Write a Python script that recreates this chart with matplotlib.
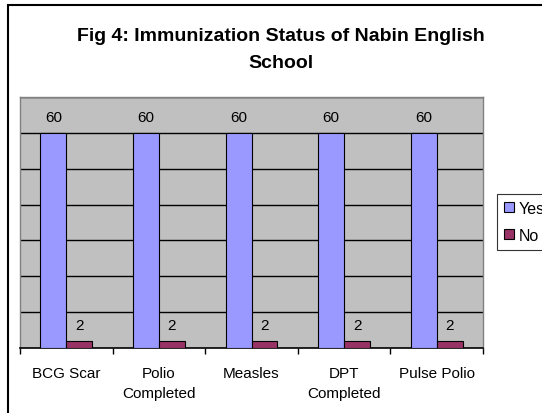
import numpy as np
import matplotlib
matplotlib.use('Agg')
import matplotlib.pyplot as plt
from matplotlib.patches import Rectangle

plt.rcParams['font.family'] = ['Liberation Sans', 'DejaVu Sans']

categories = ['BCG Scar', 'Polio\nCompleted', 'Measles', 'DPT\nCompleted', 'Pulse Polio']
yes_values = [60, 60, 60, 60, 60]
no_values = [2, 2, 2, 2, 2]

W, H = 542, 414
fig = plt.figure(figsize=(W / 100, H / 100), dpi=100)

# outer chart frame (runs off the right and bottom edges)
fig.patches.append(Rectangle((8 / W, -0.1), 1.2, (1 - 6 / H) + 0.1,
                             transform=fig.transFigure, fill=False,
                             edgecolor='black', linewidth=1.5, clip_on=False))

ax = fig.add_axes([20 / W, (H - 349) / H, 463 / W, (349 - 98) / H])
ax.set_facecolor('#C0C0C0')

x = np.arange(len(categories))
w = 0.28
b1 = ax.bar(x - w / 2, yes_values, w, color='#9999FF', edgecolor='black',
            linewidth=0.8, label='Yes', zorder=3)
b2 = ax.bar(x + w / 2, no_values, w, color='#993366', edgecolor='black',
            linewidth=0.8, label='No', zorder=3)

for bars in (b1, b2):
    for r in bars:
        ax.annotate(f'{r.get_height():g}', (r.get_x() + r.get_width() / 2, r.get_height()),
                    xytext=(0, 11.5), textcoords='offset points',
                    ha='center', va='center', fontsize=11)

ax.set_xlim(-0.5, len(categories) - 0.5)
ax.set_ylim(0, 70)
ax.set_yticks(np.arange(10, 71, 10))
ax.yaxis.grid(True, color='black', linewidth=1)
ax.set_axisbelow(True)
ax.tick_params(axis='y', length=0, labelleft=False)

ax.set_xticks(x)
ax.set_xticklabels(categories, fontsize=11, linespacing=1.5)
ax.set_xticks(np.arange(-0.5, len(categories)), minor=True)
ax.tick_params(axis='x', which='major', length=0, pad=13)
ax.tick_params(axis='x', which='minor', length=4, width=1, direction='out')

for s in ('top', 'left', 'right'):
    ax.spines[s].set_color('#808080')
    ax.spines[s].set_linewidth(1)
ax.spines['bottom'].set_color('black')
ax.spines['bottom'].set_linewidth(1.2)

fig.text(281 / W, 1 - 50 / H, 'Fig 4: Immunization Status of Nabin English\nSchool',
         ha='center', va='center', fontsize=14, fontweight='bold', linespacing=1.75)

leg = fig.legend(loc='center left', bbox_to_anchor=(497 / W, 1 - 223 / H),
                 fontsize=11.5, frameon=True, fancybox=False, edgecolor='black',
                 handlelength=0.6, handleheight=0.6, handletextpad=0.3,
                 borderpad=0.45, labelspacing=0.75, borderaxespad=0)
leg.get_frame().set_linewidth(0.8)

fig.savefig('out.png', dpi=100)
